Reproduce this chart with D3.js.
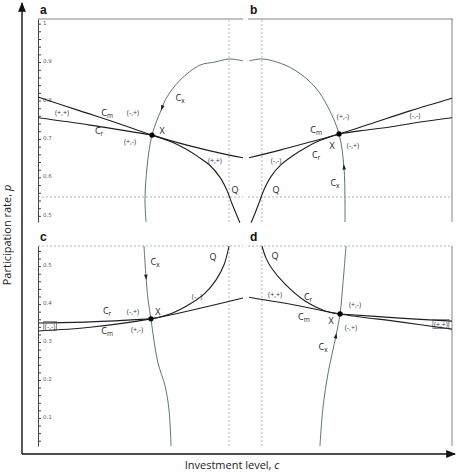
<!DOCTYPE html>
<html>
<head>
<meta charset="utf-8">
<script src="https://cdn.jsdelivr.net/npm/d3@7"></script>
<style>
  body { margin: 0; background: #fff; }
  svg { display: block; font-family: "Open Sans", "DejaVu Sans", sans-serif; }
  .curve { fill: none; stroke: #1e1e1e; stroke-width: 1.1; }
  .cx { fill: none; stroke: #5d7478; stroke-width: 1; }
  .dash { stroke: #8fa7ad; stroke-width: 0.8; stroke-dasharray: 2,2; }
  .frame { stroke: #777; stroke-width: 0.9; }
  .sign { font-size: 7px; fill: #2c3550; }
  .lab { font-size: 9px; fill: #222; }
</style>
</head>
<body>
<script>
// values: c = investment level (0..1 inside each panel), p = participation rate
const ticksTop = d3.range(25, 51).map(i => i * 0.02);
const ticksBottom = d3.range(2, 28).map(i => i * 0.02);

// panel a
const aCm = [[0,0.809],[0.205,0.773],[0.4,0.739],[0.556,0.710],[0.741,0.682],[0.932,0.658],[1.0,0.651]];
const aCr = [[0,0.755],[0.254,0.736],[0.556,0.710]];
const aQ  = [[0.556,0.710],[0.644,0.694],[0.717,0.675],[0.780,0.654],[0.839,0.631],[0.888,0.600],[0.922,0.566],[0.946,0.532],[0.966,0.506],[0.985,0.482]];
const aCx = [[1.0,0.903],[0.932,0.908],[0.863,0.900],[0.790,0.892],[0.693,0.853],[0.629,0.809],[0.605,0.781],[0.556,0.710],[0.532,0.627],[0.522,0.542],[0.527,0.484]];
// panel b
const bCm = [[0.005,0.651],[0.156,0.671],[0.302,0.692],[0.444,0.713],[0.595,0.739],[0.790,0.773],[0.995,0.806]];
const bCr = [[0.444,0.713],[0.546,0.721],[0.693,0.731],[0.839,0.744],[0.995,0.755]];
const bQ  = [[0.444,0.713],[0.356,0.697],[0.283,0.678],[0.220,0.657],[0.161,0.633],[0.112,0.602],[0.078,0.568],[0.054,0.534],[0.034,0.506],[0.015,0.482]];
const bCx = [[0.005,0.903],[0.068,0.908],[0.141,0.900],[0.229,0.879],[0.327,0.835],[0.390,0.783],[0.444,0.713],[0.468,0.627],[0.473,0.542],[0.473,0.484]];
// panel c
const cCm = [[0,0.329],[0.254,0.339],[0.551,0.361],[0.790,0.389],[1.0,0.416]];
const cCr = [[0,0.350],[0.254,0.353],[0.551,0.361]];
const cQ  = [[0.551,0.361],[0.654,0.376],[0.741,0.400],[0.815,0.429],[0.868,0.463],[0.907,0.503],[0.932,0.553]];
const cCx = [[0.517,0.553],[0.527,0.471],[0.537,0.411],[0.551,0.361],[0.566,0.303],[0.585,0.245],[0.620,0.184],[0.639,0.121],[0.649,0.026]];
// panel d
const dCm = [[0.005,0.418],[0.254,0.395],[0.449,0.374],[0.741,0.353],[0.995,0.334]];
const dCr = [[0.449,0.374],[0.741,0.363],[0.995,0.355]];
const dQ  = [[0.068,0.553],[0.088,0.521],[0.112,0.497],[0.180,0.453],[0.278,0.408],[0.376,0.382],[0.449,0.374]];
const dCx = [[0.478,0.553],[0.463,0.453],[0.449,0.374],[0.429,0.316],[0.390,0.216],[0.366,0.129],[0.351,0.026]];

// equilibrium points X
const aX = [0.556,0.710], bX = [0.444,0.713], cX = [0.551,0.361], dX = [0.449,0.374];
// arrows on Cx: [index of point, direction +1 along array / -1 against]
const aArrow = [6, 1], bArrow = [7, -1], cArrow = [1, 1], dArrow = [3, -1];

// labels: [c, p, text, kind]
const aLabels = [[0.117,0.768,"(+,+)","s"],[0.337,0.768,"Cm","C"],[0.463,0.768,"(-,+)","s"],[0.298,0.721,"Cr","C"],
  [0.449,0.692,"(+,-)","s"],[0.605,0.721,"X","X"],[0.693,0.806,"Cx","C"],[0.863,0.645,"(+,+)","s"],[0.961,0.568,"Q","Q"]];
const bLabels = [[0.463,0.757,"(+,-)","s"],[0.815,0.760,"(-,-)","s"],[0.332,0.723,"Cm","C"],[0.410,0.682,"X","X"],
  [0.512,0.684,"(-,+)","s"],[0.332,0.658,"Cr","C"],[0.137,0.643,"(-,-)","s"],[0.137,0.568,"Q","Q"],[0.424,0.586,"Cx","C"]];
const cLabels = [[0.571,0.511,"Cx","C"],[0.854,0.524,"Q","Q"],[0.776,0.421,"(-,-)","s"],[0.463,0.379,"(-,+)","s"],
  [0.585,0.379,"X","X"],[0.337,0.382,"Cr","C"],[0.337,0.329,"Cm","C"],[0.483,0.332,"(+,-)","s"],[0.059,0.342,"(-,-)","b"]];
const dLabels = [[0.132,0.526,"Q","Q"],[0.132,0.424,"(+,+)","s"],[0.293,0.418,"Cr","C"],[0.522,0.400,"(+,-)","s"],
  [0.273,0.366,"Cm","C"],[0.405,0.355,"X","X"],[0.502,0.339,"(-,+)","s"],[0.366,0.287,"Cx","C"],[0.941,0.347,"(+,+)","b"]];

const W = 457, H = 474;
const svg = d3.select("body").append("svg").attr("width", W).attr("height", H);

svg.append("defs").append("marker")
  .attr("id", "head").attr("viewBox", "0 0 10 10").attr("refX", 9).attr("refY", 5)
  .attr("markerWidth", 7).attr("markerHeight", 7).attr("orient", "auto")
  .append("path").attr("d", "M0,1L10,5L0,9Z").attr("fill", "#111");

const xLeft = d3.scaleLinear().domain([0, 1]).range([38, 243]);
const xRight = d3.scaleLinear().domain([0, 1]).range([248, 453]);
const yTop = d3.scaleLinear().domain([0.484, 1.012]).range([222, 19]);
const yBottom = d3.scaleLinear().domain([0.026, 0.553]).range([446, 246]);

const panels = [
  {name: "a", x: xLeft, y: yTop, Cm: aCm, Cr: aCr, Q: aQ, Cx: aCx, X: aX, arrow: aArrow, labels: aLabels, vline: 0.932, hline: 0.549, axis: ticksTop},
  {name: "b", x: xRight, y: yTop, Cm: bCm, Cr: bCr, Q: bQ, Cx: bCx, X: bX, arrow: bArrow, labels: bLabels, vline: 0.068, hline: 0.549},
  {name: "c", x: xLeft, y: yBottom, Cm: cCm, Cr: cCr, Q: cQ, Cx: cCx, X: cX, arrow: cArrow, labels: cLabels, vline: 0.932, hline: 0.553, axis: ticksBottom},
  {name: "d", x: xRight, y: yBottom, Cm: dCm, Cr: dCr, Q: dQ, Cx: dCx, X: dX, arrow: dArrow, labels: dLabels, vline: 0.068, hline: 0.553}
];

let drawPanel = (pn) => {
  const g = svg.append("g");
  const [y0, y1] = pn.y.range();
  const [x0, x1] = pn.x.range();

  // dashed guides
  g.append("line").attr("class", "dash")
    .attr("x1", pn.x(pn.vline)).attr("x2", pn.x(pn.vline)).attr("y1", y0).attr("y2", y1);
  g.append("line").attr("class", "dash")
    .attr("x1", x0).attr("x2", x1).attr("y1", pn.y(pn.hline)).attr("y2", pn.y(pn.hline));

  // frame pieces
  if (pn.y === yTop) {
    g.append("line").attr("class", "frame").attr("x1", x0).attr("x2", x1).attr("y1", y1).attr("y2", y1);
  }
  if (pn.x === xRight) {
    g.append("line").attr("class", "frame").attr("x1", x1 - 1).attr("x2", x1 - 1).attr("y1", y0).attr("y2", y1);
  }

  // tick axis on the left panels
  if (pn.axis) {
    const ax = g.append("g").attr("transform", `translate(${x0},0)`)
      .call(d3.axisRight(pn.y).tickValues(pn.axis).tickSize(3).tickSizeOuter(0).tickPadding(2)
        .tickFormat(v => {
          const t = Math.round(v * 100);
          if (t % 10 !== 0) return "";
          return t === 100 ? "1" : (t / 100).toFixed(1);
        }));
    ax.select(".domain").attr("stroke", "#444");
    ax.selectAll(".tick line").attr("stroke", "#444");
    ax.selectAll(".tick text").attr("font-size", 5.5).attr("fill", "#4a5a86").attr("dy", "0.1em")
      .attr("font-family", "DejaVu Sans, sans-serif");
  }

  const line = d3.line().x(d => pn.x(d[0])).y(d => pn.y(d[1])).curve(d3.curveCatmullRom.alpha(0.5));

  g.append("path").attr("class", "cx").attr("d", line(pn.Cx));
  g.append("path").attr("class", "curve").attr("d", line(pn.Cm));
  g.append("path").attr("class", "curve").attr("d", line(pn.Cr));
  g.append("path").attr("class", "curve").attr("d", line(pn.Q));

  // arrow on Cx
  const [i, dir] = pn.arrow;
  const p = pn.Cx[i], q = pn.Cx[i + dir];
  const px = pn.x(p[0]), py = pn.y(p[1]);
  const ang = Math.atan2(pn.y(q[1]) - py, pn.x(q[0]) - px) * 180 / Math.PI;
  g.append("path").attr("d", "M3,0L-2.5,-1.8L-2.5,1.8Z").attr("fill", "#222")
    .attr("transform", `translate(${px},${py}) rotate(${ang})`);

  // equilibrium
  g.append("circle").attr("cx", pn.x(pn.X[0])).attr("cy", pn.y(pn.X[1])).attr("r", 2.6).attr("fill", "#000");

  // annotations
  pn.labels.forEach(l => {
    const tx = pn.x(l[0]), ty = pn.y(l[1]);
    if (l[3] === "C") {
      const t = g.append("text").attr("class", "lab").attr("x", tx).attr("y", ty).attr("dy", "0.35em")
        .attr("text-anchor", "middle");
      t.append("tspan").text("C");
      t.append("tspan").attr("font-size", 6.5).attr("dy", "0.25em").text(l[2].slice(1));
    } else if (l[3] === "X" || l[3] === "Q") {
      g.append("text").attr("class", "lab").attr("x", tx).attr("y", ty).attr("dy", "0.35em")
        .attr("text-anchor", "middle").attr("font-size", l[3] === "Q" ? 8.5 : 9).text(l[2]);
    } else {
      const t = g.append("text").attr("class", "sign").attr("x", tx).attr("y", ty).attr("dy", "0.35em")
        .attr("text-anchor", "middle").text(l[2]);
      if (l[3] === "b") {
        const bb = t.node().getBBox();
        g.insert("rect", () => t.node()).attr("x", bb.x - 1).attr("y", bb.y).attr("width", bb.width + 2).attr("height", bb.height)
          .attr("fill", "none").attr("stroke", "#444").attr("stroke-width", 0.6);
      }
    }
  });

  // panel letter
  svg.append("text").attr("x", x0 + 2).attr("y", y1 - 5).attr("font-size", 12).attr("font-weight", "bold")
    .attr("font-family", "Liberation Sans, Arial, sans-serif").attr("fill", "#111").text(pn.name);
};

panels.forEach(drawPanel);

// outer axes
svg.append("line").attr("x1", 22).attr("x2", 22).attr("y1", 454).attr("y2", 3)
  .attr("stroke", "#111").attr("stroke-width", 1.4).attr("marker-end", "url(#head)");
svg.append("line").attr("x1", 22).attr("x2", 455).attr("y1", 454).attr("y2", 454)
  .attr("stroke", "#111").attr("stroke-width", 1.4).attr("marker-end", "url(#head)");

const yl = svg.append("text").attr("transform", "translate(11,235) rotate(-90)").attr("text-anchor", "middle")
  .attr("font-size", 11).attr("fill", "#222");
yl.append("tspan").text("Participation rate, ");
yl.append("tspan").attr("font-style", "italic").text("p");

const xl = svg.append("text").attr("x", 232).attr("y", 469).attr("text-anchor", "middle")
  .attr("font-size", 11).attr("fill", "#222");
xl.append("tspan").text("Investment level, ");
xl.append("tspan").attr("font-style", "italic").text("c");
</script>
</body>
</html>
